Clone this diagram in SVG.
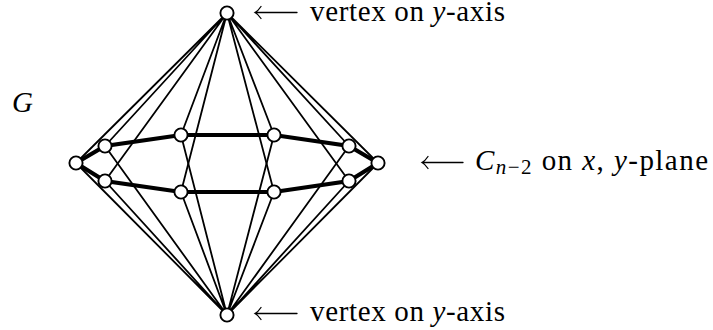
<svg xmlns="http://www.w3.org/2000/svg" width="713" height="330" viewBox="0 0 713 330">
<style>
.thin{stroke:#000;stroke-width:1.8;fill:none}
.thick{stroke:#000;stroke-width:4.2;fill:none}
.node{fill:#fff;stroke:#000;stroke-width:1.9}
.lbl{font-family:"Liberation Serif","Times New Roman",serif;font-size:29px;fill:#000}
.it{font-style:italic}
.arr{stroke:#000;stroke-width:1.3;fill:none;stroke-linecap:round}
</style>
<rect width="713" height="330" fill="#fff"/>
<g id="connectors">
<g class="thin">
<path d="M227 13L76 163M227 13L105 146M227 13L181 135M227 13L274 135M227 13L349 146M227 13L378 163M227 13L349 181M227 13L274 192M227 13L181 192M227 13L105 181"/>
<path d="M227 315L76 163M227 315L105 146M227 315L181 135M227 315L274 135M227 315L349 146M227 315L378 163M227 315L349 181M227 315L274 192M227 315L181 192M227 315L105 181"/>
</g>
<path class="thick" d="M76 163L105 146L181 135L274 135L349 146L378 163L349 181L274 192L181 192L105 181Z"/>
</g>
<g id="node-top"><circle class="node" cx="227" cy="13" r="6.6"/></g>
<g id="node-bottom"><circle class="node" cx="227" cy="315" r="6.6"/></g>
<g id="node-c1"><circle class="node" cx="76" cy="163" r="6.6"/></g>
<g id="node-c2"><circle class="node" cx="105" cy="146" r="6.6"/></g>
<g id="node-c3"><circle class="node" cx="181" cy="135" r="6.6"/></g>
<g id="node-c4"><circle class="node" cx="274" cy="135" r="6.6"/></g>
<g id="node-c5"><circle class="node" cx="349" cy="146" r="6.6"/></g>
<g id="node-c6"><circle class="node" cx="378" cy="163" r="6.6"/></g>
<g id="node-c7"><circle class="node" cx="349" cy="181" r="6.6"/></g>
<g id="node-c8"><circle class="node" cx="274" cy="192" r="6.6"/></g>
<g id="node-c9"><circle class="node" cx="181" cy="192" r="6.6"/></g>
<g id="node-c10"><circle class="node" cx="105" cy="181" r="6.6"/></g>
<g id="labels">
<text class="lbl it" x="12" y="112">G</text>
<path class="arr" d="M255 12.5H297M261 6.5Q258 11 255 12.5Q258 14 261 18.5"/>
<text class="lbl" x="310" y="21" textLength="195">vertex on <tspan class="it">y</tspan>-axis</text>
<path class="arr" d="M255 313.5H297M261 307.5Q258 312 255 313.5Q258 315 261 319.5"/>
<text class="lbl" x="310" y="321" textLength="195">vertex on <tspan class="it">y</tspan>-axis</text>
<path class="arr" d="M422 162.5H463M428 156.5Q425 161 422 162.5Q425 164 428 168.5"/>
<text class="lbl" x="475" y="170" textLength="233"><tspan class="it">C</tspan><tspan font-size="21" dy="4"><tspan class="it">n</tspan>−2</tspan><tspan dy="-4"> on </tspan><tspan class="it">x</tspan>, <tspan class="it">y</tspan>-plane</text>
</g>
</svg>
